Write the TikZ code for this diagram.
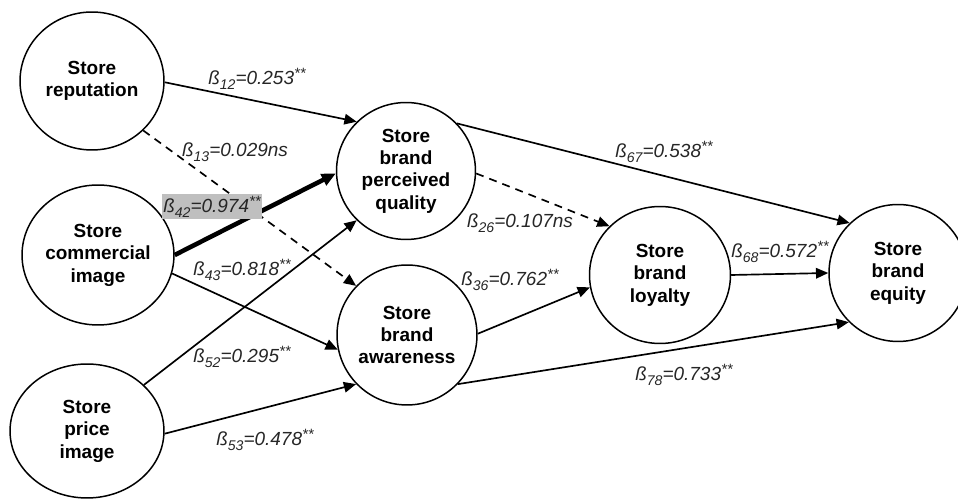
\documentclass[tikz,border=0pt]{standalone}
\usepackage{fontspec}
\setmainfont{Liberation Sans}
\usetikzlibrary{arrows.meta,shapes.geometric}
\newcommand\bsub[1]{\raisebox{-0.5ex}{\fontsize{8}{8}\selectfont #1}}
\newcommand\bsup[1]{\raisebox{0.6ex}{\fontsize{8.5}{8}\selectfont #1}}
\newcommand\coef[3]{ß\bsub{#1}=#2\bsup{#3}}
\begin{document}
\begin{tikzpicture}[x=0.02cm,y=-0.02cm,
  construct/.style={draw, ellipse, line width=0.85pt, inner sep=0pt, align=center,
    font=\bfseries\fontsize{10.8}{12.75}\selectfont},
  arr/.style={line width=0.95pt, -{Triangle[length=7pt,width=6pt]}},
  darr/.style={arr, dash pattern=on 4.5pt off 3.5pt},
  harr/.style={line width=2.6pt, -{Triangle[length=8pt,width=7pt]}},
  lab/.style={inner xsep=1pt, inner ysep=1pt, font=\itshape\fontsize{10.8}{12}\selectfont, text=black!85}]
\useasboundingbox (0,0) rectangle (958,499);
\node[construct, minimum width=2.88cm, minimum height=2.76cm] (rep) at (92,81) {Store\\reputation};
\node[construct, minimum width=3.04cm, minimum height=2.80cm] (com) at (98,255) {Store\\commercial\\image};
\node[construct, minimum width=3.08cm, minimum height=2.68cm] (pri) at (87,431) {Store\\price\\image};
\node[construct, minimum width=2.78cm, minimum height=2.74cm] (pq) at (406,171) {Store\\brand\\perceived\\quality};
\node[construct, minimum width=2.80cm, minimum height=2.80cm] (aw) at (407,335) {Store\\brand\\awareness};
\node[construct, minimum width=2.82cm, minimum height=2.74cm] (loy) at (660,275) {Store\\brand\\loyalty};
\node[construct, minimum width=2.76cm, minimum height=2.74cm] (eq) at (898,273) {Store\\brand\\equity};

\draw[arr] (rep.359) -- (pq.135.6);
\draw[darr] (rep.316) -- (aw.136);
\draw[harr] (com.0) -- (pq.182);
\draw[arr] (com.346.5) -- (aw.192);
\draw[arr] (pri.39) -- (pq.225);
\draw[arr] (pri.358) -- (aw.224);
\draw[arr] (pq.43) -- (eq.134.4);
\draw[darr] (pq.358.4) -- (loy.136);
\draw[arr] (aw.1.6) -- (loy.190.5);
\draw[arr] (aw.316.7) -- (eq.225);
\draw[arr] (loy.0) -- (eq.180);

\node[lab] (l12) at (257,79) {\coef{12}{0.253}{**}};
\node[lab] (l13) at (235,152) {\coef{13}{0.029ns}{}};
\node[lab, fill=black!25, minimum height=0.5cm, inner xsep=0.5pt] (l42) at (212,207) {\coef{42}{0.974}{**}};
\node[lab] (l43) at (242,270) {\coef{43}{0.818}{**}};
\node[lab] (l52) at (242,357) {\coef{52}{0.295}{**}};
\node[lab] (l53) at (265,440) {\coef{53}{0.478}{**}};
\node[lab] (l67) at (664,152) {\coef{67}{0.538}{**}};
\node[lab] (l26) at (520,223) {\coef{26}{0.107ns}{}};
\node[lab] (l36) at (510,280) {\coef{36}{0.762}{**}};
\node[lab] (l68) at (780,252) {\coef{68}{0.572}{**}};
\node[lab] (l78) at (684,375) {\coef{78}{0.733}{**}};
\end{tikzpicture}
\end{document}
